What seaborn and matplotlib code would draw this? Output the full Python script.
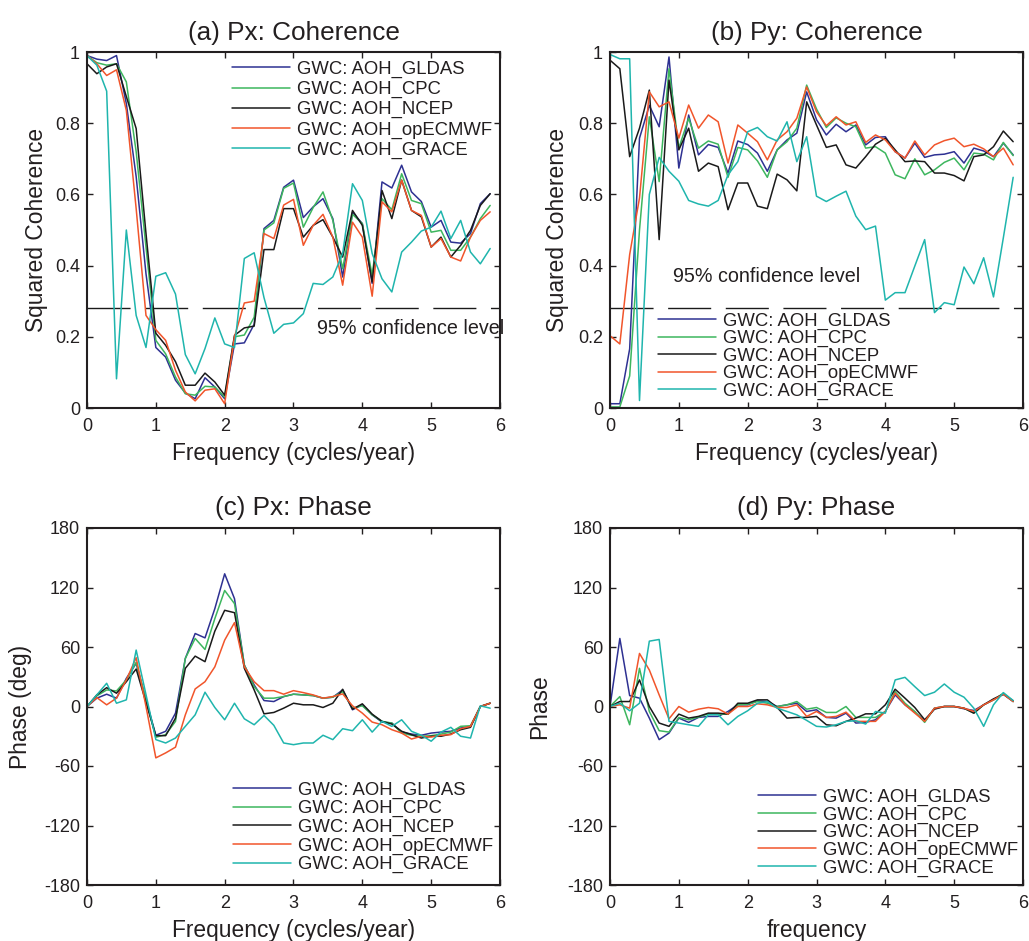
import numpy as np
import pandas as pd
import matplotlib
matplotlib.use("Agg")
import matplotlib.pyplot as plt
import seaborn as sns

# Frequency grid (cycles/year), 1/7 spacing
freq = np.arange(42) / 7.0

series_names = ["GWC: AOH_GLDAS", "GWC: AOH_CPC", "GWC: AOH_NCEP",
                "GWC: AOH_opECMWF", "GWC: AOH_GRACE"]
series_colors = ["#2E3192", "#3DB65E", "#1A1A1A", "#F1552B", "#1FB5AD"]

# (a) Px squared coherence
px_coh_gldas = [0.99, 0.98, 0.976, 0.99, 0.855, 0.65, 0.377, 0.17, 0.143, 0.078, 0.042,
                0.026, 0.085, 0.059, 0.026, 0.18, 0.183, 0.235, 0.504, 0.527, 0.62, 0.64,
                0.535, 0.565, 0.588, 0.532, 0.368, 0.55, 0.518, 0.35, 0.635, 0.618, 0.682,
                0.607, 0.58, 0.508, 0.527, 0.466, 0.463, 0.49, 0.574, 0.602]
px_coh_cpc = [0.99, 0.97, 0.963, 0.967, 0.916, 0.72, 0.452, 0.19, 0.152, 0.087, 0.04,
              0.036, 0.061, 0.059, 0.031, 0.2, 0.205, 0.255, 0.5, 0.52, 0.617, 0.632,
              0.508, 0.563, 0.607, 0.527, 0.391, 0.544, 0.518, 0.373, 0.588, 0.557, 0.658,
              0.583, 0.574, 0.494, 0.499, 0.443, 0.443, 0.48, 0.532, 0.569]
px_coh_ncep = [0.967, 0.939, 0.958, 0.967, 0.875, 0.785, 0.49, 0.21, 0.176, 0.13, 0.064,
               0.064, 0.098, 0.073, 0.036, 0.204, 0.225, 0.23, 0.445, 0.445, 0.56, 0.56,
               0.48, 0.513, 0.529, 0.48, 0.424, 0.555, 0.513, 0.354, 0.611, 0.532, 0.64,
               0.555, 0.537, 0.452, 0.48, 0.424, 0.457, 0.499, 0.569, 0.602]
px_coh_ecmwf = [0.99, 0.967, 0.934, 0.95, 0.836, 0.56, 0.26, 0.22, 0.19, 0.106, 0.045,
                0.02, 0.05, 0.054, 0.012, 0.2, 0.295, 0.3, 0.49, 0.476, 0.57, 0.586,
                0.457, 0.513, 0.544, 0.48, 0.345, 0.522, 0.48, 0.314, 0.579, 0.551, 0.64,
                0.555, 0.541, 0.452, 0.476, 0.424, 0.413, 0.48, 0.527, 0.551]
px_coh_grace = [0.99, 0.963, 0.89, 0.082, 0.5, 0.26, 0.17, 0.37, 0.38, 0.32, 0.15,
                0.096, 0.167, 0.253, 0.18, 0.17, 0.42, 0.436, 0.31, 0.21, 0.235, 0.239,
                0.265, 0.35, 0.347, 0.368, 0.434, 0.63, 0.583, 0.434, 0.363, 0.326, 0.438,
                0.466, 0.497, 0.508, 0.553, 0.476, 0.527, 0.438, 0.405, 0.448]

# (b) Py squared coherence
py_coh_gldas = [0.012, 0.012, 0.166, 0.758, 0.85, 0.79, 0.986, 0.674, 0.823, 0.711, 0.74,
                0.732, 0.66, 0.75, 0.74, 0.716, 0.665, 0.725, 0.753, 0.772, 0.888, 0.81,
                0.767, 0.797, 0.776, 0.795, 0.739, 0.76, 0.762, 0.72, 0.702, 0.744, 0.704,
                0.711, 0.713, 0.72, 0.688, 0.73, 0.722, 0.706, 0.744, 0.711]
py_coh_cpc = [0.003, 0.003, 0.09, 0.5, 0.818, 0.636, 0.953, 0.73, 0.814, 0.73, 0.75,
              0.741, 0.648, 0.732, 0.725, 0.694, 0.648, 0.725, 0.748, 0.786, 0.907, 0.84,
              0.788, 0.815, 0.8, 0.79, 0.73, 0.734, 0.716, 0.655, 0.644, 0.7, 0.655,
              0.669, 0.69, 0.702, 0.669, 0.716, 0.713, 0.697, 0.746, 0.709]
py_coh_ncep = [0.977, 0.953, 0.706, 0.786, 0.893, 0.473, 0.921, 0.725, 0.786, 0.665, 0.688,
               0.678, 0.557, 0.632, 0.632, 0.567, 0.56, 0.657, 0.641, 0.61, 0.86, 0.795,
               0.732, 0.739, 0.683, 0.674, 0.706, 0.741, 0.758, 0.725, 0.692, 0.694, 0.692,
               0.66, 0.66, 0.653, 0.638, 0.706, 0.711, 0.734, 0.778, 0.748]
py_coh_ecmwf = [0.203, 0.18, 0.431, 0.59, 0.888, 0.846, 0.86, 0.758, 0.851, 0.786, 0.823,
                0.804, 0.688, 0.795, 0.772, 0.748, 0.697, 0.753, 0.776, 0.814, 0.902, 0.832,
                0.793, 0.818, 0.795, 0.804, 0.746, 0.767, 0.753, 0.72, 0.702, 0.75, 0.711,
                0.739, 0.751, 0.758, 0.734, 0.741, 0.728, 0.706, 0.73, 0.683]
py_coh_grace = [0.993, 0.981, 0.981, 0.021, 0.6, 0.704, 0.665, 0.637, 0.583, 0.573, 0.567,
                0.583, 0.655, 0.692, 0.776, 0.788, 0.762, 0.75, 0.804, 0.692, 0.762, 0.595,
                0.58, 0.595, 0.609, 0.539, 0.501, 0.511, 0.303, 0.324, 0.324, 0.399, 0.473,
                0.268, 0.296, 0.29, 0.396, 0.349, 0.422, 0.312, 0.478, 0.648]

# (c) Px phase (deg)
px_ph_gldas = [0, 8.4, 12.4, 8.4, 28.4, 43.5, 7, -29, -25, -6.7, 48.5, 73.6, 69.2, 98.7,
               133.8, 108.7, 41.8, 21.7, 6, 5, 10, 12.4, 11.7, 11, 8.4, 9.4, 16.7, -3.3,
               1.7, -8.4, -15.7, -16.7, -25.8, -27.8, -29, -26.8, -25.8, -25, -21.7, -20,
               0, 3.3]
px_ph_cpc = [0, 10.7, 16.7, 15.7, 26.8, 44.5, 6.7, -31, -28.4, -15, 48.5, 68.6, 57.5, 88.6,
             117, 103.7, 41.8, 20, 8.4, 8.4, 10, 12.4, 11.7, 11, 8.4, 9.4, 15, -1.7, 0.7,
             -8.4, -15, -16.7, -26.8, -29, -30, -29.4, -27.8, -25.8, -20, -19.4, 0, 3.3]
px_ph_ncep = [0, 11.7, 19, 13.4, 25, 37.8, 4, -29.4, -29.4, -11.7, 38.5, 50.8, 45.2, 76,
              97, 94.6, 38.5, 16.7, -7.4, -6, -1.7, 3.3, 1.7, 1.7, -1, 3.3, 17.4, -2.7,
              2.7, -7.7, -15, -17.7, -25, -28.4, -31.8, -30, -30, -27.8, -23.4, -21, 0, 3.3]
px_ph_ecmwf = [0, 9, 1.7, 8.4, 26.8, 49.2, 0, -51.8, -46.8, -41, -8.4, 17.7, 25, 40, 66.9,
               84.6, 40, 25, 16, 16, 12.4, 16, 14, 11.7, 8.4, 10, 12.7, 0.7, -6.7, -15.7,
               -18.4, -23.4, -26.8, -32.8, -30, -30.8, -29, -28.4, -22.4, -20, 0, 3.3]
px_ph_grace = [0, 11.7, 23.4, 3.3, 6.7, 56.9, 12, -33.4, -36.8, -31.8, -20, -8.4, 14.4, -1,
               -13.4, 3.3, -12.4, -18.4, -9, -19, -36.8, -38.5, -36.8, -36.8, -29, -33.4,
               -22.4, -24.4, -13.4, -25.8, -15, -20, -13.4, -25, -29, -35, -25.8, -21, -30,
               -31.8, 0.7, -1.7]

# (d) Py phase (deg)
py_ph_gldas = [0, 68.6, 11, 8.4, -11.7, -33.4, -26.8, -11.7, -16, -11, -10, -10, -5, 1.7,
               1.7, 5.7, 5, 0, 1.7, 3.3, -5, -3.3, -11, -11.7, -6.7, -16.7, -16, -13.4, -5,
               11.7, 1.7, -5.7, -15, -1.7, 0, 0, -2.3, -4, 1.7, 6.7, 12.4, 5]
py_ph_cpc = [0, 10, -18.4, 38.5, -5, -24.4, -25.8, -11, -13.4, -10.7, -7.4, -7.7, -7.7, 1.7,
             2.3, 5, 3.3, 0, 1.7, 5, -2.7, -1, -6, -6, 0, -11, -11, -11, -5, 15, 3.3, -5,
             -16, -1.7, 0, 0, -1.7, -6.7, 1.7, 6.7, 13.4, 5]
py_ph_ncep = [0, 5, 5, 26.8, 0, -16.7, -20, -7.7, -11.7, -10, -6.7, -6.7, -7.7, 3.3, 3.3,
              6.7, 6.7, -1, -11.7, -11, -11, -10, -18.4, -19.4, -15, -11.7, -7.4, -7.4, 1.7,
              17.4, 8.4, -1, -13.4, -2.7, 0, 0, -1.7, -6.7, 1.7, 7.7, 12.4, 5.7]
py_ph_ecmwf = [0, 1.7, -1.7, 53.5, 36.8, 11.7, -12.4, 0, -5.7, -2.7, -1, -2.3, -7.7, 0, 0,
               2.7, 1.7, -1, -1, 1.7, -10, -5, -11, -10, -5.7, -15, -15, -15, -5, 13.4, 1.7,
               -6.7, -15, -1.7, 0, 0, -1.7, -5, 1.7, 6.7, 12.4, 5]
py_ph_grace = [0, 3.3, -4.3, 3.3, 65.9, 67.6, -15, -16.7, -18.4, -20, -8.4, -8.4, -18.4, -10,
               -4.3, 3.3, 5, -1.7, -5, -8.4, -14, -20, -20.7, -18.4, -15, -14.4, -17.7, -5,
               -6.7, 26.8, 29.4, 20, 11, 14.4, 22.7, 14.4, 9.4, -1.7, -20, 1.7, 14, 6]

conf_level = 0.28
coh_ticks = [0, 0.2, 0.4, 0.6, 0.8, 1]
coh_ticklabels = ["0", "0.2", "0.4", "0.6", "0.8", "1"]
phase_ticks = [-180, -120, -60, 0, 60, 120, 180]
freq_ticks = [0, 1, 2, 3, 4, 5, 6]

sns.set_style("ticks")
plt.rcParams["font.family"] = ["Liberation Sans", "DejaVu Sans"]
plt.rcParams.update({
    "axes.unicode_minus": False,
    "xtick.direction": "in", "ytick.direction": "in",
    "xtick.top": True, "ytick.right": True,
    "xtick.major.size": 4, "ytick.major.size": 4,
    "xtick.major.width": 1.0, "ytick.major.width": 1.0,
    "xtick.color": "#231F20", "ytick.color": "#231F20",
    "xtick.labelsize": 13, "ytick.labelsize": 13,
    "axes.edgecolor": "#231F20", "axes.linewidth": 1.5,
    "text.color": "#231F20", "axes.labelcolor": "#231F20",
})


def long_frame(values):
    rows = []
    for name, vals in zip(series_names, values):
        rows.append(pd.DataFrame({"freq": freq, "value": vals, "series": name}))
    return pd.concat(rows, ignore_index=True)


fig = plt.figure(figsize=(10.29, 9.41), dpi=100)
W, H = 1029.0, 941.0
ax_a = fig.add_axes([87 / W, 1 - 408 / H, 413 / W, 356 / H])
ax_b = fig.add_axes([610 / W, 1 - 408 / H, 413 / W, 356 / H])
ax_c = fig.add_axes([87 / W, 1 - 885 / H, 413 / W, 357 / H])
ax_d = fig.add_axes([610 / W, 1 - 885 / H, 413 / W, 357 / H])

panels = [
    (ax_a, [px_coh_gldas, px_coh_cpc, px_coh_ncep, px_coh_ecmwf, px_coh_grace],
     "(a) Px: Coherence", "Squared Coherence", "Frequency (cycles/year)"),
    (ax_b, [py_coh_gldas, py_coh_cpc, py_coh_ncep, py_coh_ecmwf, py_coh_grace],
     "(b) Py: Coherence", "Squared Coherence", "Frequency (cycles/year)"),
    (ax_c, [px_ph_gldas, px_ph_cpc, px_ph_ncep, px_ph_ecmwf, px_ph_grace],
     "(c) Px: Phase", "Phase (deg)", "Frequency (cycles/year)"),
    (ax_d, [py_ph_gldas, py_ph_cpc, py_ph_ncep, py_ph_ecmwf, py_ph_grace],
     "(d) Py: Phase", "Phase", "frequency"),
]

for ax, vals, title, ylab, xlab in panels:
    sns.lineplot(data=long_frame(vals), x="freq", y="value", hue="series",
                 palette=series_colors, hue_order=series_names, ax=ax,
                 linewidth=1.1, legend=True)
    ax.set_xlim(0, 6)
    ax.set_xticks(freq_ticks)
    ax.set_title(title, fontsize=18.8, pad=9)
    ax.set_xlabel(xlab, fontsize=16.4, labelpad=5)
    ax.set_ylabel(ylab, fontsize=16.4)
    ax.tick_params(axis="x", pad=7)
    ax.tick_params(axis="y", pad=5)

for ax in (ax_a, ax_b):
    ax.set_ylim(0, 1)
    ax.set_yticks(coh_ticks)
    ax.set_yticklabels(coh_ticklabels)
    conf = ax.axhline(conf_level, color="#1A1A1A", linewidth=1.0, zorder=1)
    conf.set_dashes((31, 10.5))

for ax in (ax_c, ax_d):
    ax.set_ylim(-180, 180)
    ax.set_yticks(phase_ticks)

ax_a.text(3.34, 0.223, "95% confidence level", fontsize=14.2, va="center", ha="left")
ax_b.text(0.91, 0.369, "95% confidence level", fontsize=14.2, va="center", ha="left")

ax_a.yaxis.set_label_coords(-0.095, 0.5)
ax_b.yaxis.set_label_coords(-0.099, 0.5)
ax_c.yaxis.set_label_coords(-0.133, 0.5)
ax_d.yaxis.set_label_coords(-0.143, 0.5)

legend_kw = dict(frameon=False, fontsize=13.3, handlelength=3.14, handletextpad=0.38,
                 borderpad=0, borderaxespad=0, loc="upper left", title=None)
ax_a.legend(bbox_to_anchor=(0.351, 0.975), labelspacing=0.16, **legend_kw)
ax_b.legend(bbox_to_anchor=(0.116, 0.268), labelspacing=0.02, **legend_kw)
ax_c.legend(bbox_to_anchor=(0.354, 0.29), labelspacing=0.08, **legend_kw)
ax_d.legend(bbox_to_anchor=(0.358, 0.27), labelspacing=0.03, **legend_kw)

fig.savefig("out.png", dpi=100)
